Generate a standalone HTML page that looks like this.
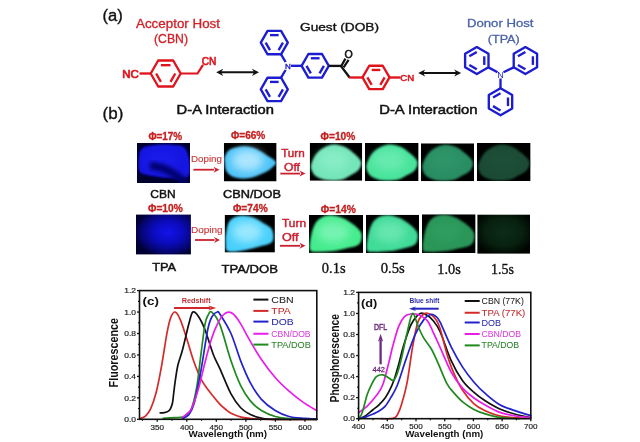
<!DOCTYPE html>
<html><head><meta charset="utf-8"><style>html,body{margin:0;padding:0;background:#fff;width:640px;height:442px;overflow:hidden}svg{display:block;filter:blur(0.35px)}</style></head><body>
<svg width="640" height="442" viewBox="0 0 640 442">
<defs><filter id="bl1" x="-20%" y="-20%" width="140%" height="140%"><feGaussianBlur stdDeviation="1"/></filter><filter id="bl2" x="-30%" y="-30%" width="160%" height="160%"><feGaussianBlur stdDeviation="4"/></filter><filter id="bl3" x="-30%" y="-30%" width="160%" height="160%"><feGaussianBlur stdDeviation="2"/></filter></defs>
<rect width="640" height="442" fill="#fff"/>
<text x="102.6" y="21" font-family="&quot;Liberation Sans&quot;, sans-serif" font-size="16" font-weight="normal" fill="#111" text-anchor="start" textLength="20.2" lengthAdjust="spacingAndGlyphs" stroke="#111" stroke-width="0.35">(a)</text>
<text x="136" y="27.9" font-family="&quot;Liberation Sans&quot;, sans-serif" font-size="12.2" font-weight="normal" fill="#d42028" text-anchor="start" textLength="84" lengthAdjust="spacingAndGlyphs" stroke="#d42028" stroke-width="0.3">Acceptor Host</text>
<text x="154" y="43.3" font-family="&quot;Liberation Sans&quot;, sans-serif" font-size="12" font-weight="normal" fill="#d42028" text-anchor="start" textLength="34" lengthAdjust="spacingAndGlyphs" stroke="#d42028" stroke-width="0.3">(CBN)</text>
<text x="300" y="31.2" font-family="&quot;Liberation Sans&quot;, sans-serif" font-size="11.6" font-weight="normal" fill="#111" text-anchor="start" textLength="79" lengthAdjust="spacingAndGlyphs" stroke="#111" stroke-width="0.35">Guest (DOB)</text>
<text x="467" y="26.6" font-family="&quot;Liberation Sans&quot;, sans-serif" font-size="11.5" font-weight="normal" fill="#4a62aa" text-anchor="start" textLength="66.5" lengthAdjust="spacingAndGlyphs" stroke="#4a62aa" stroke-width="0.3">Donor Host</text>
<text x="487.8" y="42.6" font-family="&quot;Liberation Sans&quot;, sans-serif" font-size="11.5" font-weight="normal" fill="#4a62aa" text-anchor="start" textLength="31.9" lengthAdjust="spacingAndGlyphs" stroke="#4a62aa" stroke-width="0.3">(TPA)</text>
<path d="M180.7,73.5 L173.2,86.49 L158.2,86.49 L150.7,73.5 L158.2,60.51 L173.2,60.51 Z" fill="none" stroke="#e0141c" stroke-width="2.35" stroke-linejoin="round"/>
<line x1="175.3" y1="73.5" x2="170.5" y2="81.81" stroke="#e0141c" stroke-width="2.35"/>
<line x1="160.9" y1="81.81" x2="156.1" y2="73.5" stroke="#e0141c" stroke-width="2.35"/>
<line x1="160.9" y1="65.19" x2="170.5" y2="65.19" stroke="#e0141c" stroke-width="2.35"/>
<text x="122.2" y="77.9" font-family="&quot;Liberation Sans&quot;, sans-serif" font-size="10" font-weight="normal" fill="#e0141c" text-anchor="start" textLength="16.6" lengthAdjust="spacingAndGlyphs" stroke="#e0141c" stroke-width="0.65">NC</text>
<line x1="139.5" y1="73.5" x2="150.7" y2="73.5" stroke="#e0141c" stroke-width="2.35" stroke-linecap="butt"/>
<path d="M180.7,73.5 L197.5,73.5 L203,64.8" fill="none" stroke="#e0141c" stroke-width="2.2" stroke-linejoin="round"/>
<text x="201.8" y="64.9" font-family="&quot;Liberation Sans&quot;, sans-serif" font-size="10" font-weight="normal" fill="#e0141c" text-anchor="start" textLength="14.6" lengthAdjust="spacingAndGlyphs" stroke="#e0141c" stroke-width="0.6">CN</text>
<line x1="220" y1="72.3" x2="255" y2="72.3" stroke="#111" stroke-width="2.0" stroke-linecap="butt"/>
<path d="M216.2,72.3 L223.2,68.7 L221.1,72.3 L223.2,75.9 Z" fill="#111"/>
<path d="M259,72.3 L252,68.7 L254.1,72.3 L252,75.9 Z" fill="#111"/>
<path d="M287.8,42.6 L281.05,54.29 L267.55,54.29 L260.8,42.6 L267.55,30.91 L281.05,30.91 Z" fill="none" stroke="#1c1cd0" stroke-width="2.35" stroke-linejoin="round"/>
<line x1="282.94" y1="42.6" x2="278.62" y2="50.08" stroke="#1c1cd0" stroke-width="2.35"/>
<line x1="269.98" y1="50.08" x2="265.66" y2="42.6" stroke="#1c1cd0" stroke-width="2.35"/>
<line x1="269.98" y1="35.12" x2="278.62" y2="35.12" stroke="#1c1cd0" stroke-width="2.35"/>
<path d="M287.8,89.4 L281.05,101.09 L267.55,101.09 L260.8,89.4 L267.55,77.71 L281.05,77.71 Z" fill="none" stroke="#1c1cd0" stroke-width="2.35" stroke-linejoin="round"/>
<line x1="282.94" y1="89.4" x2="278.62" y2="96.88" stroke="#1c1cd0" stroke-width="2.35"/>
<line x1="269.98" y1="96.88" x2="265.66" y2="89.4" stroke="#1c1cd0" stroke-width="2.35"/>
<line x1="269.98" y1="81.92" x2="278.62" y2="81.92" stroke="#1c1cd0" stroke-width="2.35"/>
<path d="M328.8,65.8 L322,77.58 L308.4,77.58 L301.6,65.8 L308.4,54.02 L322,54.02 Z" fill="none" stroke="#1c1cd0" stroke-width="2.35" stroke-linejoin="round"/>
<line x1="323.9" y1="65.8" x2="319.55" y2="73.34" stroke="#1c1cd0" stroke-width="2.35"/>
<line x1="310.85" y1="73.34" x2="306.5" y2="65.8" stroke="#1c1cd0" stroke-width="2.35"/>
<line x1="310.85" y1="58.26" x2="319.55" y2="58.26" stroke="#1c1cd0" stroke-width="2.35"/>
<text x="287.9" y="68.9" font-family="&quot;Liberation Sans&quot;, sans-serif" font-size="8" font-weight="normal" fill="#1c1cd0" text-anchor="middle" stroke="#1c1cd0" stroke-width="0.4">N</text>
<line x1="281.05" y1="54.29" x2="285.6" y2="62" stroke="#1c1cd0" stroke-width="2.35" stroke-linecap="butt"/>
<line x1="281.05" y1="77.71" x2="285.6" y2="70" stroke="#1c1cd0" stroke-width="2.35" stroke-linecap="butt"/>
<line x1="291" y1="65.8" x2="301.6" y2="65.8" stroke="#1c1cd0" stroke-width="2.35" stroke-linecap="butt"/>
<line x1="328.8" y1="65.9" x2="341.2" y2="65.9" stroke="#111" stroke-width="2.35" stroke-linecap="butt"/>
<line x1="341.2" y1="66.3" x2="345.4" y2="58.6" stroke="#111" stroke-width="2.2" stroke-linecap="butt"/>
<line x1="343.6" y1="67.4" x2="348.6" y2="59.9" stroke="#111" stroke-width="2.2" stroke-linecap="butt"/>
<text x="348.5" y="57.8" font-family="&quot;Liberation Sans&quot;, sans-serif" font-size="10.6" font-weight="normal" fill="#111" text-anchor="middle" stroke="#111" stroke-width="0.55">O</text>
<line x1="340.6" y1="65.6" x2="349.6" y2="77.5" stroke="#111" stroke-width="2.35" stroke-linecap="butt"/>
<path d="M389.5,77.45 L382.75,89.14 L369.25,89.14 L362.5,77.45 L369.25,65.76 L382.75,65.76 Z" fill="none" stroke="#e0141c" stroke-width="2.35" stroke-linejoin="round"/>
<line x1="384.64" y1="77.45" x2="380.32" y2="84.93" stroke="#e0141c" stroke-width="2.35"/>
<line x1="371.68" y1="84.93" x2="367.36" y2="77.45" stroke="#e0141c" stroke-width="2.35"/>
<line x1="371.68" y1="69.97" x2="380.32" y2="69.97" stroke="#e0141c" stroke-width="2.35"/>
<line x1="349.2" y1="77.5" x2="362.5" y2="77.5" stroke="#e0141c" stroke-width="2.35" stroke-linecap="butt"/>
<line x1="389.5" y1="77.5" x2="400.5" y2="77.5" stroke="#e0141c" stroke-width="2.35" stroke-linecap="butt"/>
<text x="400.3" y="80.9" font-family="&quot;Liberation Sans&quot;, sans-serif" font-size="9.2" font-weight="normal" fill="#e0141c" text-anchor="start" textLength="14" lengthAdjust="spacingAndGlyphs" stroke="#e0141c" stroke-width="0.5">CN</text>
<line x1="422" y1="73" x2="457" y2="73" stroke="#111" stroke-width="2.0" stroke-linecap="butt"/>
<path d="M418.2,73 L425.2,69.4 L423.1,73 L425.2,76.6 Z" fill="#111"/>
<path d="M461.2,73 L454.2,69.4 L456.3,73 L454.2,76.6 Z" fill="#111"/>
<path d="M488.49,67.35 L476.8,74.1 L465.11,67.35 L465.11,53.85 L476.8,47.1 L488.49,53.85 Z" fill="none" stroke="#1c1cd0" stroke-width="2.35" stroke-linejoin="round"/>
<line x1="476.8" y1="69.24" x2="469.32" y2="64.92" stroke="#1c1cd0" stroke-width="2.35"/>
<line x1="469.32" y1="56.28" x2="476.8" y2="51.96" stroke="#1c1cd0" stroke-width="2.35"/>
<line x1="484.28" y1="56.28" x2="484.28" y2="64.92" stroke="#1c1cd0" stroke-width="2.35"/>
<path d="M537.09,67.35 L525.4,74.1 L513.71,67.35 L513.71,53.85 L525.4,47.1 L537.09,53.85 Z" fill="none" stroke="#1c1cd0" stroke-width="2.35" stroke-linejoin="round"/>
<line x1="525.4" y1="69.24" x2="517.92" y2="64.92" stroke="#1c1cd0" stroke-width="2.35"/>
<line x1="517.92" y1="56.28" x2="525.4" y2="51.96" stroke="#1c1cd0" stroke-width="2.35"/>
<line x1="532.88" y1="56.28" x2="532.88" y2="64.92" stroke="#1c1cd0" stroke-width="2.35"/>
<path d="M512.19,108.55 L500.5,115.3 L488.81,108.55 L488.81,95.05 L500.5,88.3 L512.19,95.05 Z" fill="none" stroke="#1c1cd0" stroke-width="2.35" stroke-linejoin="round"/>
<line x1="500.5" y1="110.44" x2="493.02" y2="106.12" stroke="#1c1cd0" stroke-width="2.35"/>
<line x1="493.02" y1="97.48" x2="500.5" y2="93.16" stroke="#1c1cd0" stroke-width="2.35"/>
<line x1="507.98" y1="97.48" x2="507.98" y2="106.12" stroke="#1c1cd0" stroke-width="2.35"/>
<text x="500.5" y="77.6" font-family="&quot;Liberation Sans&quot;, sans-serif" font-size="9" font-weight="normal" fill="#1c1cd0" text-anchor="middle">N</text>
<line x1="488.49" y1="67.35" x2="497.5" y2="72.2" stroke="#1c1cd0" stroke-width="2.35" stroke-linecap="butt"/>
<line x1="513.71" y1="67.35" x2="503.5" y2="72.2" stroke="#1c1cd0" stroke-width="2.35" stroke-linecap="butt"/>
<line x1="500.5" y1="78.5" x2="500.5" y2="88.3" stroke="#1c1cd0" stroke-width="2.35" stroke-linecap="butt"/>
<text x="176.6" y="114" font-family="&quot;Liberation Sans&quot;, sans-serif" font-size="13.2" font-weight="normal" fill="#111" text-anchor="start" textLength="97.4" lengthAdjust="spacingAndGlyphs" stroke="#111" stroke-width="0.5">D-A Interaction</text>
<text x="379.2" y="113.6" font-family="&quot;Liberation Sans&quot;, sans-serif" font-size="13.2" font-weight="normal" fill="#111" text-anchor="start" textLength="98.3" lengthAdjust="spacingAndGlyphs" stroke="#111" stroke-width="0.5">D-A Interaction</text>
<text x="102.6" y="119" font-family="&quot;Liberation Sans&quot;, sans-serif" font-size="16" font-weight="normal" fill="#111" text-anchor="start" textLength="20.7" lengthAdjust="spacingAndGlyphs" stroke="#111" stroke-width="0.35">(b)</text>
<clipPath id="ph1"><rect x="137" y="143" width="53" height="40"/></clipPath>
<g clip-path="url(#ph1)">
<rect x="137" y="143" width="53" height="40" fill="#00002c"/>
<path d="M138.59,161 C138.94,157.13 138.94,151.27 141.77,148.6 C144.6,145.93 150.16,145.6 155.55,145 C160.94,144.4 169.24,144.53 174.1,145 C178.96,145.47 182.14,145.13 184.7,147.8 C187.26,150.47 188.76,156.47 189.47,161 C190.18,165.53 190.18,172.13 188.94,175 C187.7,177.87 186.29,177.8 182.05,178.2 C177.81,178.6 169.24,177.93 163.5,177.4 C157.76,176.87 151.57,175.93 147.6,175 C143.62,174.07 141.15,174.13 139.65,171.8 C138.15,169.47 138.24,164.87 138.59,161 Z" fill="#1212e2" filter="url(#bl1)"/>
<ellipse cx="160.85" cy="161" rx="15.9" ry="11.2" fill="#2020f8" opacity="0.35" filter="url(#bl2)"/>
</g>
<g clip-path="url(#ph1)"><path d="M150,166 Q165,165 186,183" fill="none" stroke="#050570" stroke-width="8" filter="url(#bl3)"/></g>
<clipPath id="ph2"><rect x="223.8" y="143" width="52.8" height="38.5"/></clipPath>
<g clip-path="url(#ph2)">
<rect x="223.8" y="143" width="52.8" height="38.5" fill="#000"/>
<path d="M224.86,156.86 C225.65,154.61 226.97,151.47 229.61,149.74 C232.25,148 237.09,146.88 240.7,146.47 C244.3,146.05 247.91,146.4 251.26,147.24 C254.6,148.07 257.77,149.87 260.76,151.47 C263.75,153.07 267.01,155.45 269.21,156.86 C271.41,158.27 272.82,158.88 273.96,159.94 C275.1,161 276.07,162.25 276.07,163.21 C276.07,164.18 275.37,164.4 273.96,165.72 C272.55,167.03 270.53,169.4 267.62,171.1 C264.72,172.81 260.32,174.7 256.54,175.92 C252.75,177.14 248.88,178.29 244.92,178.42 C240.96,178.55 235.86,177.91 232.78,176.69 C229.7,175.47 227.76,173.35 226.44,171.1 C225.12,168.86 225.12,165.59 224.86,163.21 C224.59,160.84 224.06,159.11 224.86,156.86 Z" fill="#50c4f8" filter="url(#bl1)"/>
<ellipse cx="247.56" cy="160.32" rx="15.84" ry="10.78" fill="#c4eeff" opacity="0.8" filter="url(#bl2)"/>
</g>
<clipPath id="ph3"><rect x="309.7" y="143" width="52.5" height="37.8"/></clipPath>
<g clip-path="url(#ph3)">
<rect x="309.7" y="143" width="52.5" height="37.8" fill="#000"/>
<path d="M311.27,164.17 C311.97,161.46 313.99,157.05 316,154.34 C318.01,151.63 320.46,149.55 323.35,147.91 C326.24,146.28 329.82,144.7 333.32,144.51 C336.82,144.32 341.11,145.46 344.35,146.78 C347.59,148.1 350.21,150.43 352.75,152.45 C355.29,154.47 358.18,156.92 359.57,158.88 C360.97,160.83 361.41,162.22 361.15,164.17 C360.89,166.12 359.75,168.77 358,170.59 C356.25,172.42 353.45,173.62 350.65,175.13 C347.85,176.64 345.22,178.85 341.2,179.67 C337.18,180.49 330.7,180.61 326.5,180.04 C322.3,179.48 318.45,177.84 316,176.26 C313.55,174.69 312.59,172.61 311.8,170.59 C311.01,168.58 310.57,166.88 311.27,164.17 Z" fill="#74e6ba" filter="url(#bl1)"/>
<ellipse cx="333.32" cy="160.01" rx="15.75" ry="10.58" fill="#96f2d0" opacity="0.55" filter="url(#bl2)"/>
</g>
<clipPath id="ph4"><rect x="365" y="143" width="53.6" height="38"/></clipPath>
<g clip-path="url(#ph4)">
<rect x="365" y="143" width="53.6" height="38" fill="#000"/>
<path d="M366.61,164.28 C367.32,161.56 369.38,157.12 371.43,154.4 C373.49,151.68 375.99,149.59 378.94,147.94 C381.88,146.29 385.55,144.71 389.12,144.52 C392.69,144.33 397.07,145.47 400.38,146.8 C403.68,148.13 406.36,150.47 408.95,152.5 C411.54,154.53 414.49,157 415.92,158.96 C417.35,160.92 417.8,162.32 417.53,164.28 C417.26,166.24 416.1,168.9 414.31,170.74 C412.53,172.58 409.67,173.78 406.81,175.3 C403.95,176.82 401.27,179.04 397.16,179.86 C393.05,180.68 386.44,180.81 382.15,180.24 C377.86,179.67 373.93,178.02 371.43,176.44 C368.93,174.86 367.95,172.77 367.14,170.74 C366.34,168.71 365.89,167 366.61,164.28 Z" fill="#48e49c" filter="url(#bl1)"/>
<ellipse cx="389.12" cy="160.1" rx="16.08" ry="10.64" fill="#80f0c0" opacity="0.55" filter="url(#bl2)"/>
</g>
<clipPath id="ph5"><rect x="421" y="143.3" width="53" height="37.9"/></clipPath>
<g clip-path="url(#ph5)">
<rect x="421" y="143.3" width="53" height="37.9" fill="#000"/>
<path d="M422.59,164.52 C423.3,161.81 425.33,157.39 427.36,154.67 C429.39,151.95 431.86,149.87 434.78,148.23 C437.69,146.58 441.32,145.01 444.85,144.82 C448.38,144.63 452.71,145.76 455.98,147.09 C459.25,148.42 461.9,150.75 464.46,152.78 C467.02,154.8 469.94,157.26 471.35,159.22 C472.76,161.18 473.2,162.57 472.94,164.52 C472.68,166.48 471.53,169.14 469.76,170.97 C467.99,172.8 465.17,174 462.34,175.51 C459.51,177.03 456.86,179.24 452.8,180.06 C448.74,180.88 442.2,181.01 437.96,180.44 C433.72,179.87 429.83,178.23 427.36,176.65 C424.89,175.07 423.92,172.99 423.12,170.97 C422.32,168.95 421.88,167.24 422.59,164.52 Z" fill="#2a8e64" filter="url(#bl1)"/>
<ellipse cx="444.85" cy="160.35" rx="15.9" ry="10.61" fill="#34a072" opacity="0.4" filter="url(#bl2)"/>
</g>
<clipPath id="ph6"><rect x="476.9" y="143" width="53.7" height="38"/></clipPath>
<g clip-path="url(#ph6)">
<rect x="476.9" y="143" width="53.7" height="38" fill="#000"/>
<path d="M478.51,164.28 C479.23,161.56 481.29,157.12 483.34,154.4 C485.4,151.68 487.91,149.59 490.86,147.94 C493.82,146.29 497.49,144.71 501.06,144.52 C504.64,144.33 509.03,145.47 512.34,146.8 C515.65,148.13 518.34,150.47 520.93,152.5 C523.53,154.53 526.48,157 527.91,158.96 C529.35,160.92 529.79,162.32 529.53,164.28 C529.26,166.24 528.09,168.9 526.3,170.74 C524.51,172.58 521.65,173.78 518.79,175.3 C515.92,176.82 513.24,179.04 509.12,179.86 C505,180.68 498.38,180.81 494.08,180.24 C489.79,179.67 485.85,178.02 483.34,176.44 C480.84,174.86 479.85,172.77 479.05,170.74 C478.24,168.71 477.79,167 478.51,164.28 Z" fill="#1a4c36" filter="url(#bl1)"/>
<ellipse cx="501.06" cy="160.1" rx="16.11" ry="10.64" fill="#205a40" opacity="0.3" filter="url(#bl2)"/>
</g>
<radialGradient id="rgTPA" cx="0.58" cy="0.45" r="0.62"><stop offset="0" stop-color="#1212ea"/><stop offset="0.45" stop-color="#0b0bbc"/><stop offset="0.8" stop-color="#050570"/><stop offset="1" stop-color="#000030"/></radialGradient>
<rect x="136" y="214.6" width="54.9" height="39.8" fill="url(#rgTPA)"/>
<clipPath id="ph8"><rect x="224.6" y="214.9" width="50.3" height="37.7"/></clipPath>
<g clip-path="url(#ph8)">
<rect x="224.6" y="214.9" width="50.3" height="37.7" fill="#000"/>
<path d="M225.61,242.42 C225.35,239.53 225.44,237.33 226.11,233.75 C226.78,230.17 227.37,223.89 229.63,220.93 C231.89,217.98 235.83,216.6 239.69,216.03 C243.55,215.47 248.83,216.35 252.77,217.54 C256.71,218.73 260.23,221.37 263.33,223.19 C266.43,225.02 269.7,225.96 271.38,228.47 C273.06,230.99 273.64,235.76 273.39,238.27 C273.14,240.79 272.47,242.11 269.87,243.55 C267.27,245 262.49,245.75 257.8,246.94 C253.1,248.14 246.73,250.02 241.7,250.72 C236.67,251.41 230.3,252.47 227.62,251.09 C224.94,249.71 225.86,245.31 225.61,242.42 Z" fill="#48d0fc" filter="url(#bl1)"/>
<ellipse cx="247.23" cy="231.87" rx="15.09" ry="10.56" fill="#b4f0ff" opacity="0.75" filter="url(#bl2)"/>
</g>
<clipPath id="ph9"><rect x="309" y="215" width="54" height="37.9"/></clipPath>
<g clip-path="url(#ph9)">
<rect x="309" y="215" width="54" height="37.9" fill="#000"/>
<path d="M310.08,249.87 C309.09,247.22 310.26,240.27 311.16,235.84 C312.06,231.42 313.59,226.43 315.48,223.34 C317.37,220.24 319.8,218.6 322.5,217.27 C325.2,215.95 328.35,215.25 331.68,215.38 C335.01,215.51 338.88,216.52 342.48,218.03 C346.08,219.55 350.22,222.14 353.28,224.47 C356.34,226.81 359.49,229.53 360.84,232.06 C362.19,234.58 361.92,237.42 361.38,239.63 C360.84,241.85 360.03,243.87 357.6,245.32 C355.17,246.77 350.85,247.4 346.8,248.35 C342.75,249.3 338.25,250.44 333.3,251 C328.35,251.57 320.97,251.95 317.1,251.76 C313.23,251.57 311.07,252.52 310.08,249.87 Z" fill="#44ec8e" filter="url(#bl1)"/>
<ellipse cx="333.3" cy="232.06" rx="16.2" ry="10.61" fill="#90f8c4" opacity="0.65" filter="url(#bl2)"/>
</g>
<clipPath id="ph10"><rect x="366" y="214.8" width="53" height="38.2"/></clipPath>
<g clip-path="url(#ph10)">
<rect x="366" y="214.8" width="53" height="38.2" fill="#000"/>
<path d="M367.06,249.94 C366.09,247.27 367.24,240.27 368.12,235.81 C369,231.35 370.5,226.32 372.36,223.2 C374.22,220.08 376.6,218.43 379.25,217.09 C381.9,215.76 384.99,215.05 388.26,215.18 C391.53,215.31 395.33,216.33 398.86,217.86 C402.39,219.38 406.46,221.99 409.46,224.35 C412.46,226.71 415.56,229.44 416.88,231.99 C418.2,234.54 417.94,237.4 417.41,239.63 C416.88,241.86 416.08,243.9 413.7,245.36 C411.31,246.82 407.08,247.46 403.1,248.42 C399.12,249.37 394.71,250.52 389.85,251.09 C384.99,251.66 377.75,252.04 373.95,251.85 C370.15,251.66 368.03,252.62 367.06,249.94 Z" fill="#40dc98" filter="url(#bl1)"/>
<ellipse cx="389.85" cy="231.99" rx="15.9" ry="10.7" fill="#80ecc0" opacity="0.6" filter="url(#bl2)"/>
</g>
<clipPath id="ph11"><rect x="422" y="214.3" width="53.6" height="38.7"/></clipPath>
<g clip-path="url(#ph11)">
<rect x="422" y="214.3" width="53.6" height="38.7" fill="#000"/>
<path d="M423.07,249.9 C422.09,247.19 423.25,240.1 424.14,235.59 C425.04,231.07 426.56,225.97 428.43,222.81 C430.31,219.65 432.72,217.98 435.4,216.62 C438.08,215.27 441.21,214.56 444.51,214.69 C447.82,214.82 451.66,215.85 455.23,217.4 C458.81,218.94 462.91,221.59 465.95,223.98 C468.99,226.36 472.12,229.13 473.46,231.72 C474.8,234.3 474.53,237.2 473.99,239.46 C473.46,241.71 472.65,243.78 470.24,245.26 C467.83,246.74 463.54,247.39 459.52,248.36 C455.5,249.32 451.03,250.48 446.12,251.06 C441.21,251.65 433.88,252.03 430.04,251.84 C426.2,251.65 424.05,252.61 423.07,249.9 Z" fill="#2a9658" filter="url(#bl1)"/>
<ellipse cx="446.12" cy="231.72" rx="16.08" ry="10.84" fill="#34a86a" opacity="0.4" filter="url(#bl2)"/>
</g>
<radialGradient id="rgG15" cx="0.5" cy="0.45" r="0.6"><stop offset="0" stop-color="#0c2c18"/><stop offset="0.6" stop-color="#08200f"/><stop offset="1" stop-color="#000500"/></radialGradient>
<rect x="477.4" y="214.7" width="52.6" height="38.9" fill="url(#rgG15)"/>
<text x="148.4" y="139.7" font-family="&quot;Liberation Sans&quot;, sans-serif" font-size="10.6" font-weight="bold" fill="#c42020" text-anchor="start" textLength="33.8" lengthAdjust="spacingAndGlyphs" stroke="#c42020" stroke-width="0.3">Φ=17%</text>
<text x="231" y="139.1" font-family="&quot;Liberation Sans&quot;, sans-serif" font-size="10.6" font-weight="bold" fill="#c42020" text-anchor="start" textLength="34.3" lengthAdjust="spacingAndGlyphs" stroke="#c42020" stroke-width="0.3">Φ=66%</text>
<text x="320.6" y="140" font-family="&quot;Liberation Sans&quot;, sans-serif" font-size="10.6" font-weight="bold" fill="#c42020" text-anchor="start" textLength="34.7" lengthAdjust="spacingAndGlyphs" stroke="#c42020" stroke-width="0.3">Φ=10%</text>
<text x="191" y="162.2" font-family="&quot;Liberation Sans&quot;, sans-serif" font-size="9" font-weight="normal" fill="#c83434" text-anchor="start" textLength="31" lengthAdjust="spacingAndGlyphs" stroke="#c83434" stroke-width="0.1">Doping</text>
<line x1="193.4" y1="169.7" x2="214" y2="169.7" stroke="#cc2030" stroke-width="1.8" stroke-linecap="butt"/>
<path d="M219.5,169.7 L213.5,166.7 L215.3,169.7 L213.5,172.7 Z" fill="#cc2030"/>
<text x="281.2" y="156.6" font-family="&quot;Liberation Sans&quot;, sans-serif" font-size="11.2" font-weight="normal" fill="#cc2030" text-anchor="start" textLength="23.5" lengthAdjust="spacingAndGlyphs" stroke="#cc2030" stroke-width="0.45">Turn</text>
<text x="284" y="171" font-family="&quot;Liberation Sans&quot;, sans-serif" font-size="11.2" font-weight="normal" fill="#cc2030" text-anchor="start" textLength="16" lengthAdjust="spacingAndGlyphs" stroke="#cc2030" stroke-width="0.45">Off</text>
<line x1="280.3" y1="173.6" x2="300" y2="173.6" stroke="#cc2030" stroke-width="1.8" stroke-linecap="butt"/>
<path d="M305.5,173.6 L299.5,170.6 L301.3,173.6 L299.5,176.6 Z" fill="#cc2030"/>
<text x="150.3" y="197.5" font-family="&quot;Liberation Sans&quot;, sans-serif" font-size="11.8" font-weight="normal" fill="#111" text-anchor="start" textLength="25.3" lengthAdjust="spacingAndGlyphs" stroke="#111" stroke-width="0.45">CBN</text>
<text x="223" y="197.5" font-family="&quot;Liberation Sans&quot;, sans-serif" font-size="11.8" font-weight="normal" fill="#111" text-anchor="start" textLength="58" lengthAdjust="spacingAndGlyphs" stroke="#111" stroke-width="0.45">CBN/DOB</text>
<text x="148" y="212.2" font-family="&quot;Liberation Sans&quot;, sans-serif" font-size="10.6" font-weight="bold" fill="#c42020" text-anchor="start" textLength="34.8" lengthAdjust="spacingAndGlyphs" stroke="#c42020" stroke-width="0.3">Φ=10%</text>
<text x="233" y="212.3" font-family="&quot;Liberation Sans&quot;, sans-serif" font-size="10.6" font-weight="bold" fill="#c42020" text-anchor="start" textLength="34.7" lengthAdjust="spacingAndGlyphs" stroke="#c42020" stroke-width="0.3">Φ=74%</text>
<text x="320.8" y="212.7" font-family="&quot;Liberation Sans&quot;, sans-serif" font-size="10.6" font-weight="bold" fill="#c42020" text-anchor="start" textLength="35" lengthAdjust="spacingAndGlyphs" stroke="#c42020" stroke-width="0.3">Φ=14%</text>
<text x="190.9" y="232.8" font-family="&quot;Liberation Sans&quot;, sans-serif" font-size="9" font-weight="normal" fill="#c83434" text-anchor="start" textLength="31.8" lengthAdjust="spacingAndGlyphs" stroke="#c83434" stroke-width="0.1">Doping</text>
<line x1="195" y1="240" x2="214.5" y2="240" stroke="#cc2030" stroke-width="1.8" stroke-linecap="butt"/>
<path d="M220,240 L214,237 L215.8,240 L214,243 Z" fill="#cc2030"/>
<text x="282" y="226.7" font-family="&quot;Liberation Sans&quot;, sans-serif" font-size="11.2" font-weight="normal" fill="#cc2030" text-anchor="start" textLength="24" lengthAdjust="spacingAndGlyphs" stroke="#cc2030" stroke-width="0.45">Turn</text>
<text x="282" y="241" font-family="&quot;Liberation Sans&quot;, sans-serif" font-size="11.2" font-weight="normal" fill="#cc2030" text-anchor="start" textLength="16.5" lengthAdjust="spacingAndGlyphs" stroke="#cc2030" stroke-width="0.45">Off</text>
<line x1="280" y1="245.8" x2="300" y2="245.8" stroke="#cc2030" stroke-width="1.8" stroke-linecap="butt"/>
<path d="M305.5,245.8 L299.5,242.8 L301.3,245.8 L299.5,248.8 Z" fill="#cc2030"/>
<text x="152.2" y="270.7" font-family="&quot;Liberation Sans&quot;, sans-serif" font-size="11.8" font-weight="normal" fill="#111" text-anchor="start" textLength="24" lengthAdjust="spacingAndGlyphs" stroke="#111" stroke-width="0.45">TPA</text>
<text x="221.5" y="273.3" font-family="&quot;Liberation Sans&quot;, sans-serif" font-size="11.8" font-weight="normal" fill="#111" text-anchor="start" textLength="56.5" lengthAdjust="spacingAndGlyphs" stroke="#111" stroke-width="0.45">TPA/DOB</text>
<text x="321.8" y="273.3" font-family="&quot;Liberation Serif&quot;, serif" font-size="14.8" font-weight="normal" fill="#111" text-anchor="start" textLength="23.8" lengthAdjust="spacingAndGlyphs" stroke="#111" stroke-width="0.35">0.1s</text>
<text x="380.8" y="273.3" font-family="&quot;Liberation Serif&quot;, serif" font-size="14.8" font-weight="normal" fill="#111" text-anchor="start" textLength="24" lengthAdjust="spacingAndGlyphs" stroke="#111" stroke-width="0.35">0.5s</text>
<text x="437.3" y="273.8" font-family="&quot;Liberation Serif&quot;, serif" font-size="14.8" font-weight="normal" fill="#111" text-anchor="start" textLength="23.5" lengthAdjust="spacingAndGlyphs" stroke="#111" stroke-width="0.35">1.0s</text>
<text x="491" y="273.8" font-family="&quot;Liberation Serif&quot;, serif" font-size="14.8" font-weight="normal" fill="#111" text-anchor="start" textLength="23" lengthAdjust="spacingAndGlyphs" stroke="#111" stroke-width="0.35">1.5s</text>
<path d="M140.09,418.44 C140.98,418.05 143.64,417.73 145.41,416.08 C147.18,414.44 148.92,412.58 150.73,408.57 C152.54,404.57 154.45,399.32 156.28,392.06 C158.12,384.8 159.92,374.97 161.72,365.03 C163.52,355.09 165.58,340.36 167.1,332.43 C168.62,324.49 169.47,320.81 170.82,317.41 C172.17,314.02 173.57,311.57 175.2,312.05 C176.82,312.53 178.55,315.54 180.57,320.31 C182.6,325.08 185.11,333.66 187.37,340.69 C189.64,347.71 191.68,355.68 194.17,362.46 C196.66,369.23 199.15,375.7 202.32,381.33 C205.5,386.96 210.25,392.42 213.2,396.24 C216.14,400.07 217.75,401.96 219.99,404.29 C222.24,406.61 224.84,408.68 226.67,410.18 C228.5,411.69 228.57,412.13 230.99,413.29 C233.4,414.46 237.68,416.26 241.15,417.16 C244.62,418.05 247.06,418.3 251.79,418.66 C256.52,419.01 258.69,419.19 269.52,419.3 C280.35,419.41 308.92,419.3 316.8,419.3" fill="none" stroke="#d42a2a" stroke-width="1.7" stroke-linejoin="round" stroke-linecap="round"/>
<path d="M160.19,412.87 C160.87,412.83 162.94,412.94 164.32,412.65 C165.7,412.36 167.42,411.83 168.46,411.15 C169.49,410.47 169.86,409.93 170.53,408.57 C171.2,407.22 171.94,405.68 172.48,403 C173.02,400.32 173.32,396.1 173.78,392.49 C174.23,388.88 174.51,385.91 175.2,381.33 C175.89,376.76 176.77,370 177.92,365.03 C179.06,360.06 180.69,356.49 182.05,351.52 C183.41,346.55 184.89,340.01 186.07,335.22 C187.25,330.43 188.02,326.64 189.14,322.78 C190.27,318.91 191.28,313.12 192.81,312.05 C194.33,310.98 196.28,313.39 198.3,316.34 C200.33,319.29 202.5,323.44 204.98,329.75 C207.47,336.06 210.7,347.67 213.2,354.2 C215.7,360.72 217.03,362.28 219.99,368.89 C222.96,375.51 227.54,387.41 230.99,393.88 C234.43,400.35 237.45,404.27 240.68,407.72 C243.91,411.17 246.94,412.87 250.37,414.58 C253.8,416.3 257.56,417.23 261.25,418.01 C264.93,418.8 263.22,419.09 272.48,419.3 C281.73,419.51 309.41,419.3 316.8,419.3" fill="none" stroke="#111111" stroke-width="1.7" stroke-linejoin="round" stroke-linecap="round"/>
<path d="M163.14,418.23 C165.11,418.14 171.71,417.87 174.96,417.69 C178.21,417.51 180.67,417.6 182.64,417.16 C184.61,416.71 185.3,416.44 186.78,415.01 C188.26,413.58 189.83,413.29 191.51,408.57 C193.18,403.86 195.25,395.76 196.83,386.7 C198.4,377.63 199.6,364.58 200.96,354.2 C202.32,343.81 203.8,330.87 204.98,324.38 C206.16,317.9 206.92,317.32 208.06,315.27 C209.19,313.21 209.79,310.44 211.78,312.05 C213.77,313.66 216.79,316.79 219.99,324.92 C223.2,333.05 227.54,350.73 230.99,360.85 C234.43,370.97 237.45,378.96 240.68,385.62 C243.91,392.29 246.91,396.71 250.37,400.85 C253.83,405 257.29,407.9 261.42,410.51 C265.56,413.12 270.59,415.15 275.19,416.51 C279.79,417.87 282.09,418.19 289.02,418.66 C295.96,419.12 312.17,419.19 316.8,419.3" fill="none" stroke="#1e8a1e" stroke-width="1.7" stroke-linejoin="round" stroke-linecap="round"/>
<path d="M182.64,418.23 C183.63,417.69 186.63,417.51 188.55,415.01 C190.47,412.51 192.1,410.63 194.17,403.21 C196.24,395.79 198.71,382.75 200.96,370.5 C203.22,358.26 205.83,338.77 207.7,329.75 C209.57,320.72 210.61,319.29 212.19,316.34 C213.78,313.39 215.92,312.41 217.22,312.05 C218.52,311.69 217.7,310.62 219.99,314.2 C222.29,317.77 227.54,325.72 230.99,333.5 C234.43,341.28 237.45,352.63 240.68,360.85 C243.91,369.07 246.91,376.42 250.37,382.84 C253.83,389.25 257.29,394.74 261.42,399.35 C265.56,403.96 270.59,407.65 275.19,410.51 C279.79,413.37 284.06,415.19 289.02,416.51 C293.99,417.83 300.35,417.98 304.98,418.44 C309.61,418.91 314.83,419.16 316.8,419.3" fill="none" stroke="#2222cc" stroke-width="1.7" stroke-linejoin="round" stroke-linecap="round"/>
<path d="M182.64,417.16 C183.33,416.62 185.3,415.37 186.78,413.94 C188.26,412.51 189.59,412.67 191.51,408.57 C193.43,404.48 196.06,397.06 198.3,389.38 C200.55,381.69 202.74,371.04 204.98,362.46 C207.23,353.88 209.51,344.69 211.78,337.9 C214.04,331.1 216.64,325.56 218.58,321.7 C220.52,317.84 221.8,316.34 223.42,314.73 C225.05,313.12 226.65,312.14 228.33,312.05 C230,311.96 231.41,312.23 233.47,314.2 C235.53,316.16 237.86,319.31 240.68,323.85 C243.5,328.39 246.91,335.5 250.37,341.44 C253.83,347.37 257.29,353.45 261.42,359.45 C265.56,365.46 270.58,372.18 275.19,377.47 C279.8,382.76 284.46,387.09 289.08,391.2 C293.7,395.31 298.31,398.92 302.91,402.14 C307.51,405.36 314.39,409.11 316.68,410.51" fill="none" stroke="#e81ee8" stroke-width="1.7" stroke-linejoin="round" stroke-linecap="round"/>
<rect x="139.5" y="290.6" width="177.3" height="128.7" fill="none" stroke="#111" stroke-width="1.6"/>
<line x1="137" y1="419.3" x2="139.5" y2="419.3" stroke="#111" stroke-width="1.3"/>
<text x="136" y="422" font-family="&quot;Liberation Sans&quot;, sans-serif" font-size="7.6" font-weight="normal" fill="#222" text-anchor="end" textLength="11.8" lengthAdjust="spacingAndGlyphs" stroke="#222" stroke-width="0.18">0.0</text>
<line x1="138" y1="408.57" x2="139.5" y2="408.57" stroke="#111" stroke-width="1.1"/>
<line x1="137" y1="397.85" x2="139.5" y2="397.85" stroke="#111" stroke-width="1.3"/>
<text x="136" y="400.55" font-family="&quot;Liberation Sans&quot;, sans-serif" font-size="7.6" font-weight="normal" fill="#222" text-anchor="end" textLength="11.8" lengthAdjust="spacingAndGlyphs" stroke="#222" stroke-width="0.18">0.2</text>
<line x1="138" y1="387.12" x2="139.5" y2="387.12" stroke="#111" stroke-width="1.1"/>
<line x1="137" y1="376.4" x2="139.5" y2="376.4" stroke="#111" stroke-width="1.3"/>
<text x="136" y="379.1" font-family="&quot;Liberation Sans&quot;, sans-serif" font-size="7.6" font-weight="normal" fill="#222" text-anchor="end" textLength="11.8" lengthAdjust="spacingAndGlyphs" stroke="#222" stroke-width="0.18">0.4</text>
<line x1="138" y1="365.68" x2="139.5" y2="365.68" stroke="#111" stroke-width="1.1"/>
<line x1="137" y1="354.95" x2="139.5" y2="354.95" stroke="#111" stroke-width="1.3"/>
<text x="136" y="357.65" font-family="&quot;Liberation Sans&quot;, sans-serif" font-size="7.6" font-weight="normal" fill="#222" text-anchor="end" textLength="11.8" lengthAdjust="spacingAndGlyphs" stroke="#222" stroke-width="0.18">0.6</text>
<line x1="138" y1="344.23" x2="139.5" y2="344.23" stroke="#111" stroke-width="1.1"/>
<line x1="137" y1="333.5" x2="139.5" y2="333.5" stroke="#111" stroke-width="1.3"/>
<text x="136" y="336.2" font-family="&quot;Liberation Sans&quot;, sans-serif" font-size="7.6" font-weight="normal" fill="#222" text-anchor="end" textLength="11.8" lengthAdjust="spacingAndGlyphs" stroke="#222" stroke-width="0.18">0.8</text>
<line x1="138" y1="322.78" x2="139.5" y2="322.78" stroke="#111" stroke-width="1.1"/>
<line x1="137" y1="312.05" x2="139.5" y2="312.05" stroke="#111" stroke-width="1.3"/>
<text x="136" y="314.75" font-family="&quot;Liberation Sans&quot;, sans-serif" font-size="7.6" font-weight="normal" fill="#222" text-anchor="end" textLength="11.8" lengthAdjust="spacingAndGlyphs" stroke="#222" stroke-width="0.18">1.0</text>
<line x1="138" y1="301.33" x2="139.5" y2="301.33" stroke="#111" stroke-width="1.1"/>
<line x1="137" y1="290.6" x2="139.5" y2="290.6" stroke="#111" stroke-width="1.3"/>
<text x="136" y="293.3" font-family="&quot;Liberation Sans&quot;, sans-serif" font-size="7.6" font-weight="normal" fill="#222" text-anchor="end" textLength="11.8" lengthAdjust="spacingAndGlyphs" stroke="#222" stroke-width="0.18">1.2</text>
<line x1="157.23" y1="419.3" x2="157.23" y2="421.8" stroke="#111" stroke-width="1.3"/>
<text x="157.23" y="429.6" font-family="&quot;Liberation Sans&quot;, sans-serif" font-size="7.6" font-weight="normal" fill="#222" text-anchor="middle" textLength="13.5" lengthAdjust="spacingAndGlyphs" stroke="#222" stroke-width="0.18">350</text>
<line x1="186.78" y1="419.3" x2="186.78" y2="421.8" stroke="#111" stroke-width="1.3"/>
<text x="186.78" y="429.6" font-family="&quot;Liberation Sans&quot;, sans-serif" font-size="7.6" font-weight="normal" fill="#222" text-anchor="middle" textLength="13.5" lengthAdjust="spacingAndGlyphs" stroke="#222" stroke-width="0.18">400</text>
<line x1="216.33" y1="419.3" x2="216.33" y2="421.8" stroke="#111" stroke-width="1.3"/>
<text x="216.33" y="429.6" font-family="&quot;Liberation Sans&quot;, sans-serif" font-size="7.6" font-weight="normal" fill="#222" text-anchor="middle" textLength="13.5" lengthAdjust="spacingAndGlyphs" stroke="#222" stroke-width="0.18">450</text>
<line x1="245.88" y1="419.3" x2="245.88" y2="421.8" stroke="#111" stroke-width="1.3"/>
<text x="245.88" y="429.6" font-family="&quot;Liberation Sans&quot;, sans-serif" font-size="7.6" font-weight="normal" fill="#222" text-anchor="middle" textLength="13.5" lengthAdjust="spacingAndGlyphs" stroke="#222" stroke-width="0.18">500</text>
<line x1="275.43" y1="419.3" x2="275.43" y2="421.8" stroke="#111" stroke-width="1.3"/>
<text x="275.43" y="429.6" font-family="&quot;Liberation Sans&quot;, sans-serif" font-size="7.6" font-weight="normal" fill="#222" text-anchor="middle" textLength="13.5" lengthAdjust="spacingAndGlyphs" stroke="#222" stroke-width="0.18">550</text>
<line x1="304.98" y1="419.3" x2="304.98" y2="421.8" stroke="#111" stroke-width="1.3"/>
<text x="304.98" y="429.6" font-family="&quot;Liberation Sans&quot;, sans-serif" font-size="7.6" font-weight="normal" fill="#222" text-anchor="middle" textLength="13.5" lengthAdjust="spacingAndGlyphs" stroke="#222" stroke-width="0.18">600</text>
<line x1="142.46" y1="419.3" x2="142.46" y2="420.8" stroke="#111" stroke-width="1.1"/>
<line x1="172" y1="419.3" x2="172" y2="420.8" stroke="#111" stroke-width="1.1"/>
<line x1="201.56" y1="419.3" x2="201.56" y2="420.8" stroke="#111" stroke-width="1.1"/>
<line x1="231.11" y1="419.3" x2="231.11" y2="420.8" stroke="#111" stroke-width="1.1"/>
<line x1="260.66" y1="419.3" x2="260.66" y2="420.8" stroke="#111" stroke-width="1.1"/>
<line x1="290.21" y1="419.3" x2="290.21" y2="420.8" stroke="#111" stroke-width="1.1"/>
<path d="M358.6,418.7 C359.56,418.35 361.95,418.09 364.34,416.59 C366.73,415.1 370.56,411.68 372.95,409.75 C375.34,407.82 376.63,407.03 378.69,405.02 C380.75,403 383.38,400.28 385.29,397.65 C387.2,395.02 388.65,392.39 390.17,389.23 C391.69,386.07 392.98,382.91 394.42,378.7 C395.85,374.5 397.27,369.41 398.78,363.97 C400.29,358.53 401.43,352.66 403.49,346.08 C405.54,339.5 408.34,329.94 411.12,324.5 C413.9,319.06 417.46,314.94 420.19,313.45 C422.92,311.96 425.31,314.33 427.48,315.55 C429.65,316.78 431.13,318.19 433.22,320.82 C435.31,323.45 436.98,324.68 439.99,331.34 C443.01,338.01 447.53,352.57 451.3,360.81 C455.07,369.06 458.83,375.55 462.61,380.81 C466.39,386.07 470.21,389.05 473.97,392.39 C477.73,395.72 480.86,398.04 485.17,400.81 C489.47,403.58 494.49,406.7 499.8,409.02 C505.11,411.33 511.86,413.3 517.02,414.7 C522.19,416.1 528.5,416.98 530.8,417.44" fill="none" stroke="#111111" stroke-width="1.7" stroke-linejoin="round" stroke-linecap="round"/>
<path d="M381.56,418.7 C383.19,418.7 389.12,418.88 391.32,418.7 C393.52,418.52 393.71,418.35 394.76,417.65 C395.81,416.95 396.48,416.77 397.63,414.49 C398.78,412.21 400.05,409.4 401.65,403.96 C403.25,398.53 405.4,391.33 407.22,381.86 C409.04,372.39 410.76,357.13 412.56,347.13 C414.35,337.13 416,327.48 418.01,321.87 C420.02,316.26 422.46,314.68 424.61,313.45 C426.76,312.22 429.01,313.45 430.92,314.5 C432.84,315.55 434.58,317.48 436.09,319.76 C437.6,322.05 438.21,322.57 439.99,328.18 C441.77,333.8 444.52,346.08 446.77,353.44 C449.01,360.81 450.84,366.25 453.48,372.39 C456.12,378.53 459.19,385.02 462.61,390.28 C466.02,395.54 470.21,400.54 473.97,403.96 C477.73,407.39 481.44,408.96 485.17,410.81 C488.9,412.65 492.58,413.96 496.36,415.02 C500.14,416.07 503.06,416.58 507.84,417.12 C512.62,417.67 522.19,418.09 525.06,418.28" fill="none" stroke="#d42a2a" stroke-width="1.7" stroke-linejoin="round" stroke-linecap="round"/>
<path d="M358.6,418.7 C359.75,418.44 363.1,417.89 365.49,417.12 C367.88,416.35 370.75,415.03 372.95,414.07 C375.15,413.1 376.63,412.67 378.69,411.33 C380.75,410 383.28,408.35 385.29,406.07 C387.3,403.79 388.73,401.16 390.74,397.65 C392.76,394.14 394.78,391.65 397.4,385.02 C400.02,378.39 403.44,366.43 406.47,357.87 C409.5,349.31 412.56,340.24 415.6,333.66 C418.64,327.08 422.19,321.59 424.72,318.4 C427.26,315.2 429.01,314.89 430.81,314.5 C432.61,314.12 433.99,314.85 435.52,316.08 C437.05,317.31 437.36,316.7 439.99,321.87 C442.62,327.04 447.53,339.59 451.3,347.13 C455.07,354.67 458.83,361.29 462.61,367.13 C466.39,372.97 470.21,377.79 473.97,382.18 C477.73,386.56 480.86,389.69 485.17,393.44 C489.47,397.19 494.49,401.72 499.8,404.7 C505.11,407.68 511.86,409.53 517.02,411.33 C522.19,413.14 528.5,414.84 530.8,415.54" fill="none" stroke="#2222cc" stroke-width="1.7" stroke-linejoin="round" stroke-linecap="round"/>
<path d="M358.6,412.6 C360.04,411.51 364.24,408.91 367.21,406.07 C370.18,403.23 373.81,399.05 376.39,395.54 C378.98,392.04 380.7,390.28 382.71,385.02 C384.72,379.76 386.73,370.64 388.45,363.97 C390.17,357.3 391.32,351.34 393.04,345.02 C394.76,338.71 396.87,330.82 398.78,326.08 C400.69,321.34 402.61,318.62 404.52,316.61 C406.43,314.59 408.06,314.33 410.26,313.98 C412.46,313.63 414.85,313.36 417.72,314.5 C420.59,315.64 424.9,317.84 427.48,320.82 C430.06,323.8 431.13,328.01 433.22,332.39 C435.31,336.78 436.98,340.46 439.99,347.13 C443.01,353.8 447.53,365.55 451.3,372.39 C455.07,379.23 458.83,383.91 462.61,388.18 C466.39,392.44 470.21,395.16 473.97,397.97 C477.73,400.77 480.86,402.61 485.17,405.02 C489.47,407.42 494.49,410.51 499.8,412.38 C505.11,414.26 511.86,415.4 517.02,416.28 C522.19,417.16 528.5,417.42 530.8,417.65" fill="none" stroke="#e81ee8" stroke-width="1.7" stroke-linejoin="round" stroke-linecap="round"/>
<path d="M358.6,418.7 C359.08,418 360.51,416.77 361.47,414.49 C362.43,412.21 363.38,408.35 364.34,405.02 C365.3,401.68 366.06,397.83 367.21,394.49 C368.36,391.16 369.7,388 371.23,385.02 C372.76,382.04 374.48,378.3 376.39,376.6 C378.31,374.9 380.7,374.64 382.71,374.81 C384.72,374.99 386.63,376.74 388.45,377.65 C390.27,378.56 392.08,381.16 393.61,380.28 C395.14,379.41 396.29,376.16 397.63,372.39 C398.97,368.62 400.05,364.32 401.65,357.65 C403.25,350.99 405.4,339.76 407.22,332.39 C409.04,325.03 410.76,314.5 412.56,313.45 C414.35,312.4 416.19,322.05 418.01,326.08 C419.83,330.11 421.21,333.8 423.46,337.66 C425.71,341.52 429.01,344.85 431.5,349.23 C433.99,353.62 435.84,358.29 438.39,363.97 C440.93,369.65 444.25,378.6 446.77,383.34 C449.28,388.07 450.84,389.3 453.48,392.39 C456.12,395.47 459.19,399.02 462.61,401.86 C466.02,404.7 470.21,407.44 473.97,409.44 C477.73,411.44 480.86,412.53 485.17,413.86 C489.47,415.19 494.11,416.63 499.8,417.44 C505.5,418.24 516.07,418.49 519.32,418.7" fill="none" stroke="#1e8a1e" stroke-width="1.7" stroke-linejoin="round" stroke-linecap="round"/>
<rect x="358.6" y="292.4" width="172.2" height="126.3" fill="none" stroke="#111" stroke-width="1.6"/>
<line x1="356.1" y1="418.7" x2="358.6" y2="418.7" stroke="#111" stroke-width="1.3"/>
<text x="355.1" y="421.4" font-family="&quot;Liberation Sans&quot;, sans-serif" font-size="7.6" font-weight="normal" fill="#222" text-anchor="end" textLength="11.8" lengthAdjust="spacingAndGlyphs" stroke="#222" stroke-width="0.18">0.0</text>
<line x1="357.1" y1="408.18" x2="358.6" y2="408.18" stroke="#111" stroke-width="1.1"/>
<line x1="356.1" y1="397.65" x2="358.6" y2="397.65" stroke="#111" stroke-width="1.3"/>
<text x="355.1" y="400.35" font-family="&quot;Liberation Sans&quot;, sans-serif" font-size="7.6" font-weight="normal" fill="#222" text-anchor="end" textLength="11.8" lengthAdjust="spacingAndGlyphs" stroke="#222" stroke-width="0.18">0.2</text>
<line x1="357.1" y1="387.12" x2="358.6" y2="387.12" stroke="#111" stroke-width="1.1"/>
<line x1="356.1" y1="376.6" x2="358.6" y2="376.6" stroke="#111" stroke-width="1.3"/>
<text x="355.1" y="379.3" font-family="&quot;Liberation Sans&quot;, sans-serif" font-size="7.6" font-weight="normal" fill="#222" text-anchor="end" textLength="11.8" lengthAdjust="spacingAndGlyphs" stroke="#222" stroke-width="0.18">0.4</text>
<line x1="357.1" y1="366.07" x2="358.6" y2="366.07" stroke="#111" stroke-width="1.1"/>
<line x1="356.1" y1="355.55" x2="358.6" y2="355.55" stroke="#111" stroke-width="1.3"/>
<text x="355.1" y="358.25" font-family="&quot;Liberation Sans&quot;, sans-serif" font-size="7.6" font-weight="normal" fill="#222" text-anchor="end" textLength="11.8" lengthAdjust="spacingAndGlyphs" stroke="#222" stroke-width="0.18">0.6</text>
<line x1="357.1" y1="345.02" x2="358.6" y2="345.02" stroke="#111" stroke-width="1.1"/>
<line x1="356.1" y1="334.5" x2="358.6" y2="334.5" stroke="#111" stroke-width="1.3"/>
<text x="355.1" y="337.2" font-family="&quot;Liberation Sans&quot;, sans-serif" font-size="7.6" font-weight="normal" fill="#222" text-anchor="end" textLength="11.8" lengthAdjust="spacingAndGlyphs" stroke="#222" stroke-width="0.18">0.8</text>
<line x1="357.1" y1="323.97" x2="358.6" y2="323.97" stroke="#111" stroke-width="1.1"/>
<line x1="356.1" y1="313.45" x2="358.6" y2="313.45" stroke="#111" stroke-width="1.3"/>
<text x="355.1" y="316.15" font-family="&quot;Liberation Sans&quot;, sans-serif" font-size="7.6" font-weight="normal" fill="#222" text-anchor="end" textLength="11.8" lengthAdjust="spacingAndGlyphs" stroke="#222" stroke-width="0.18">1.0</text>
<line x1="357.1" y1="302.92" x2="358.6" y2="302.92" stroke="#111" stroke-width="1.1"/>
<line x1="356.1" y1="292.4" x2="358.6" y2="292.4" stroke="#111" stroke-width="1.3"/>
<text x="355.1" y="295.1" font-family="&quot;Liberation Sans&quot;, sans-serif" font-size="7.6" font-weight="normal" fill="#222" text-anchor="end" textLength="11.8" lengthAdjust="spacingAndGlyphs" stroke="#222" stroke-width="0.18">1.2</text>
<line x1="358.6" y1="418.7" x2="358.6" y2="421.2" stroke="#111" stroke-width="1.3"/>
<text x="358.6" y="429" font-family="&quot;Liberation Sans&quot;, sans-serif" font-size="7.6" font-weight="normal" fill="#222" text-anchor="middle" textLength="13.5" lengthAdjust="spacingAndGlyphs" stroke="#222" stroke-width="0.18">400</text>
<line x1="387.3" y1="418.7" x2="387.3" y2="421.2" stroke="#111" stroke-width="1.3"/>
<text x="387.3" y="429" font-family="&quot;Liberation Sans&quot;, sans-serif" font-size="7.6" font-weight="normal" fill="#222" text-anchor="middle" textLength="13.5" lengthAdjust="spacingAndGlyphs" stroke="#222" stroke-width="0.18">450</text>
<line x1="416" y1="418.7" x2="416" y2="421.2" stroke="#111" stroke-width="1.3"/>
<text x="416" y="429" font-family="&quot;Liberation Sans&quot;, sans-serif" font-size="7.6" font-weight="normal" fill="#222" text-anchor="middle" textLength="13.5" lengthAdjust="spacingAndGlyphs" stroke="#222" stroke-width="0.18">500</text>
<line x1="444.7" y1="418.7" x2="444.7" y2="421.2" stroke="#111" stroke-width="1.3"/>
<text x="444.7" y="429" font-family="&quot;Liberation Sans&quot;, sans-serif" font-size="7.6" font-weight="normal" fill="#222" text-anchor="middle" textLength="13.5" lengthAdjust="spacingAndGlyphs" stroke="#222" stroke-width="0.18">550</text>
<line x1="473.4" y1="418.7" x2="473.4" y2="421.2" stroke="#111" stroke-width="1.3"/>
<text x="473.4" y="429" font-family="&quot;Liberation Sans&quot;, sans-serif" font-size="7.6" font-weight="normal" fill="#222" text-anchor="middle" textLength="13.5" lengthAdjust="spacingAndGlyphs" stroke="#222" stroke-width="0.18">600</text>
<line x1="502.1" y1="418.7" x2="502.1" y2="421.2" stroke="#111" stroke-width="1.3"/>
<text x="502.1" y="429" font-family="&quot;Liberation Sans&quot;, sans-serif" font-size="7.6" font-weight="normal" fill="#222" text-anchor="middle" textLength="13.5" lengthAdjust="spacingAndGlyphs" stroke="#222" stroke-width="0.18">650</text>
<line x1="530.8" y1="418.7" x2="530.8" y2="421.2" stroke="#111" stroke-width="1.3"/>
<text x="530.8" y="429" font-family="&quot;Liberation Sans&quot;, sans-serif" font-size="7.6" font-weight="normal" fill="#222" text-anchor="middle" textLength="13.5" lengthAdjust="spacingAndGlyphs" stroke="#222" stroke-width="0.18">700</text>
<line x1="372.95" y1="418.7" x2="372.95" y2="420.2" stroke="#111" stroke-width="1.1"/>
<line x1="401.65" y1="418.7" x2="401.65" y2="420.2" stroke="#111" stroke-width="1.1"/>
<line x1="430.35" y1="418.7" x2="430.35" y2="420.2" stroke="#111" stroke-width="1.1"/>
<line x1="459.05" y1="418.7" x2="459.05" y2="420.2" stroke="#111" stroke-width="1.1"/>
<line x1="487.75" y1="418.7" x2="487.75" y2="420.2" stroke="#111" stroke-width="1.1"/>
<line x1="516.45" y1="418.7" x2="516.45" y2="420.2" stroke="#111" stroke-width="1.1"/>
<text x="142.6" y="304.5" font-family="&quot;Liberation Sans&quot;, sans-serif" font-size="11.8" font-weight="bold" fill="#111" text-anchor="start" textLength="16.3" lengthAdjust="spacingAndGlyphs">(c)</text>
<text x="181.7" y="302.6" font-family="&quot;Liberation Sans&quot;, sans-serif" font-size="6.5" font-weight="bold" fill="#c03030" text-anchor="start" textLength="29" lengthAdjust="spacingAndGlyphs">Redshift</text>
<line x1="174.1" y1="308" x2="210" y2="308" stroke="#d02828" stroke-width="2" stroke-linecap="butt"/>
<path d="M216.3,308 L208.3,305.4 L210.7,308 L208.3,310.6 Z" fill="#d02828"/>
<text transform="translate(118.4,387.4) rotate(-90)" font-family="&quot;Liberation Sans&quot;, sans-serif" font-size="12.2" font-weight="bold" fill="#111" textLength="69.3" lengthAdjust="spacingAndGlyphs">Fluorescence</text>
<text x="188.6" y="437" font-family="&quot;Liberation Sans&quot;, sans-serif" font-size="9.6" font-weight="bold" fill="#111" text-anchor="start" textLength="78.5" lengthAdjust="spacingAndGlyphs">Wavelength (nm)</text>
<line x1="253.4" y1="299.6" x2="268.4" y2="299.6" stroke="#111111" stroke-width="2.0" stroke-linecap="butt"/>
<text x="271.3" y="302.6" font-family="&quot;Liberation Sans&quot;, sans-serif" font-size="8.5" font-weight="normal" fill="#222" text-anchor="start" textLength="22.3" lengthAdjust="spacingAndGlyphs" stroke="#222" stroke-width="0.05">CBN</text>
<line x1="253.4" y1="310.9" x2="268.4" y2="310.9" stroke="#d42a2a" stroke-width="2.0" stroke-linecap="butt"/>
<text x="271.3" y="313.9" font-family="&quot;Liberation Sans&quot;, sans-serif" font-size="8.5" font-weight="normal" fill="#c42828" text-anchor="start" textLength="19.5" lengthAdjust="spacingAndGlyphs" stroke="#c42828" stroke-width="0.05">TPA</text>
<line x1="253.4" y1="321.6" x2="268.4" y2="321.6" stroke="#2222cc" stroke-width="2.0" stroke-linecap="butt"/>
<text x="271.3" y="324.6" font-family="&quot;Liberation Sans&quot;, sans-serif" font-size="8.5" font-weight="normal" fill="#2a2aaa" text-anchor="start" textLength="22.5" lengthAdjust="spacingAndGlyphs" stroke="#2a2aaa" stroke-width="0.05">DOB</text>
<line x1="253.4" y1="333.75" x2="268.4" y2="333.75" stroke="#e81ee8" stroke-width="2.0" stroke-linecap="butt"/>
<text x="271.3" y="336.75" font-family="&quot;Liberation Sans&quot;, sans-serif" font-size="8.5" font-weight="normal" fill="#dc3cdc" text-anchor="start" textLength="39.3" lengthAdjust="spacingAndGlyphs" stroke="#dc3cdc" stroke-width="0.05">CBN/DOB</text>
<line x1="253.4" y1="344.6" x2="268.4" y2="344.6" stroke="#1e8a1e" stroke-width="2.0" stroke-linecap="butt"/>
<text x="271.3" y="347.6" font-family="&quot;Liberation Sans&quot;, sans-serif" font-size="8.5" font-weight="normal" fill="#2a802a" text-anchor="start" textLength="39.5" lengthAdjust="spacingAndGlyphs" stroke="#2a802a" stroke-width="0.05">TPA/DOB</text>
<text x="360.9" y="307.3" font-family="&quot;Liberation Sans&quot;, sans-serif" font-size="11.8" font-weight="bold" fill="#111" text-anchor="start" textLength="16.3" lengthAdjust="spacingAndGlyphs">(d)</text>
<text x="409.4" y="302.5" font-family="&quot;Liberation Sans&quot;, sans-serif" font-size="6.5" font-weight="bold" fill="#3030a8" text-anchor="start" textLength="30" lengthAdjust="spacingAndGlyphs">Blue shift</text>
<line x1="414" y1="308.7" x2="438.7" y2="308.7" stroke="#2828c0" stroke-width="2" stroke-linecap="butt"/>
<path d="M409,308.7 L416,306.4 L413.9,308.7 L416,311 Z" fill="#2828c0"/>
<text x="374" y="329.8" font-family="&quot;Liberation Sans&quot;, sans-serif" font-size="8.2" font-weight="normal" fill="#6e2a7c" text-anchor="start" textLength="13.2" lengthAdjust="spacingAndGlyphs" stroke="#6e2a7c" stroke-width="0.4">DFL</text>
<line x1="380.6" y1="364.3" x2="380.6" y2="340" stroke="#6e2a7c" stroke-width="2.3" stroke-linecap="butt"/>
<path d="M380.6,333.8 L378,341.8 L380.6,339.4 L383.2,341.8 Z" fill="#6e2a7c"/>
<text x="372.5" y="372.4" font-family="&quot;Liberation Sans&quot;, sans-serif" font-size="8" font-weight="normal" fill="#6e2a7c" text-anchor="start" textLength="12.5" lengthAdjust="spacingAndGlyphs" stroke="#6e2a7c" stroke-width="0.3">442</text>
<text transform="translate(338.9,402.4) rotate(-90)" font-family="&quot;Liberation Sans&quot;, sans-serif" font-size="12.2" font-weight="bold" fill="#111" textLength="88.4" lengthAdjust="spacingAndGlyphs">Phosphorescence</text>
<text x="405.3" y="437" font-family="&quot;Liberation Sans&quot;, sans-serif" font-size="9.6" font-weight="bold" fill="#111" text-anchor="start" textLength="78" lengthAdjust="spacingAndGlyphs">Wavelength (nm)</text>
<line x1="464.7" y1="301" x2="479.7" y2="301" stroke="#111111" stroke-width="2.0" stroke-linecap="butt"/>
<text x="481.6" y="304" font-family="&quot;Liberation Sans&quot;, sans-serif" font-size="8.5" font-weight="normal" fill="#222" text-anchor="start" textLength="42.2" lengthAdjust="spacingAndGlyphs" stroke="#222" stroke-width="0.05">CBN (77K)</text>
<line x1="464.7" y1="312.75" x2="479.7" y2="312.75" stroke="#d42a2a" stroke-width="2.0" stroke-linecap="butt"/>
<text x="481.6" y="315.75" font-family="&quot;Liberation Sans&quot;, sans-serif" font-size="8.5" font-weight="normal" fill="#c42828" text-anchor="start" textLength="43.7" lengthAdjust="spacingAndGlyphs" stroke="#c42828" stroke-width="0.05">TPA (77K)</text>
<line x1="464.7" y1="322.5" x2="479.7" y2="322.5" stroke="#2222cc" stroke-width="2.0" stroke-linecap="butt"/>
<text x="481.6" y="325.5" font-family="&quot;Liberation Sans&quot;, sans-serif" font-size="8.5" font-weight="normal" fill="#2a2aaa" text-anchor="start" textLength="19.5" lengthAdjust="spacingAndGlyphs" stroke="#2a2aaa" stroke-width="0.05">DOB</text>
<line x1="464.7" y1="334" x2="479.7" y2="334" stroke="#e81ee8" stroke-width="2.0" stroke-linecap="butt"/>
<text x="481.6" y="337" font-family="&quot;Liberation Sans&quot;, sans-serif" font-size="8.5" font-weight="normal" fill="#dc3cdc" text-anchor="start" textLength="39.4" lengthAdjust="spacingAndGlyphs" stroke="#dc3cdc" stroke-width="0.05">CBN/DOB</text>
<line x1="464.7" y1="345.4" x2="479.7" y2="345.4" stroke="#1e8a1e" stroke-width="2.0" stroke-linecap="butt"/>
<text x="481.6" y="348.4" font-family="&quot;Liberation Sans&quot;, sans-serif" font-size="8.5" font-weight="normal" fill="#2a802a" text-anchor="start" textLength="37.5" lengthAdjust="spacingAndGlyphs" stroke="#2a802a" stroke-width="0.05">TPA/DOB</text>
</svg>
</body></html>
